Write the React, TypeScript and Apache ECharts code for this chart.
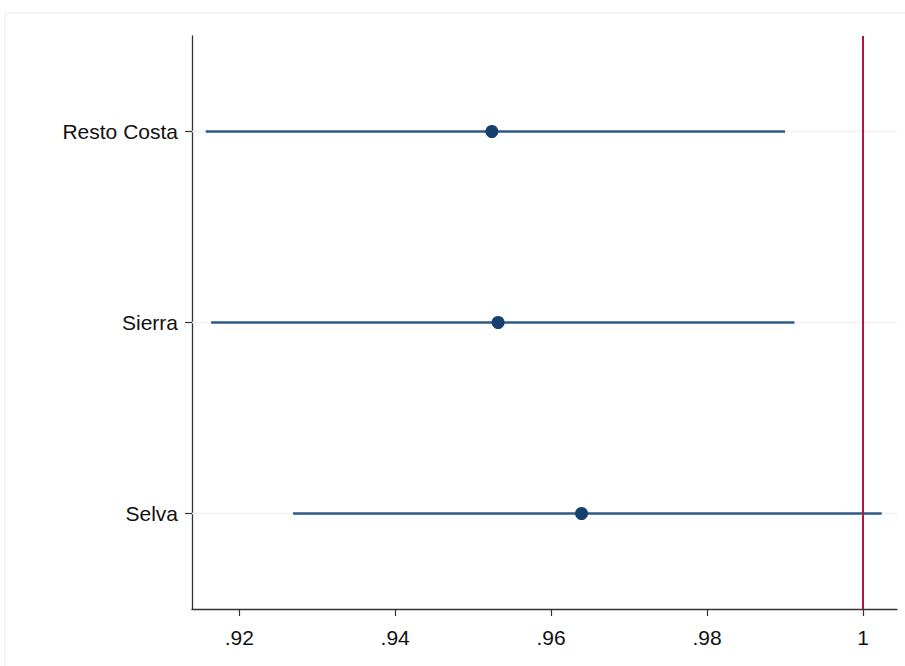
import React, { useEffect, useRef } from "react";
import * as echarts from "echarts";

const categories = ["Resto Costa", "Sierra", "Selva"];
const estimates = [0.9524, 0.9532, 0.9639];
const lowerCI = [0.9157, 0.9164, 0.9269];
const upperCI = [0.99, 0.9912, 1.0024];
const xTicks = [0.92, 0.94, 0.96, 0.98, 1];
const referenceValue = 1;

const FONT = "'Liberation Sans', Arial, Helvetica, sans-serif";

export default function App() {
  const ref = useRef<HTMLDivElement>(null);
  useEffect(() => {
    if (!ref.current) return;
    const chart = echarts.init(ref.current, null, { renderer: "svg" });
    const ciData = categories.map((c, i) => [lowerCI[i], upperCI[i], i]);
    const pointData = categories.map((c, i) => [estimates[i], c]);
    chart.setOption({
      animation: false,
      backgroundColor: "#ffffff",
      graphic: [
        {
          type: "rect",
          shape: { x: 5, y: 13, width: 920, height: 680 },
          style: { fill: "none", stroke: "#ececec", lineWidth: 1 },
          silent: true,
          z: -1,
        },
      ],
      grid: { left: 192, top: 36, right: 8, bottom: 57 },
      xAxis: {
        type: "value",
        min: 0.91394,
        max: 1.00436,
        splitLine: { show: false },
        axisLine: { show: true, onZero: false, lineStyle: { color: "#333", width: 1.3 } },
        axisTick: {
          show: true,
          length: 7,
          customValues: xTicks,
          lineStyle: { color: "#333", width: 1.2 },
        },
        axisLabel: {
          customValues: xTicks,
          margin: 18,
          fontSize: 21,
          fontFamily: FONT,
          color: "#111",
          formatter: (v: number) => {
            const s = String(Math.round(v * 100) / 100);
            return s.startsWith("0.") ? s.slice(1) : s;
          },
        },
      },
      yAxis: {
        type: "category",
        data: categories,
        inverse: true,
        axisLine: { show: true, lineStyle: { color: "#333", width: 1.3 } },
        axisTick: { show: true, alignWithLabel: true, length: 7, lineStyle: { color: "#333", width: 1.2 } },
        axisLabel: { margin: 14, fontSize: 21, fontFamily: FONT, color: "#111" },
        splitLine: { show: false },
      },
      series: [
        {
          type: "custom",
          data: ciData,
          encode: { x: [0, 1], y: 2 },
          renderItem: (params: any, api: any) => {
            const lo = api.value(0);
            const hi = api.value(1);
            const idx = api.value(2);
            const a = api.coord([lo, idx]);
            const b = api.coord([hi, idx]);
            const cs = params.coordSys;
            return {
              type: "group",
              children: [
                {
                  type: "line",
                  shape: { x1: cs.x, y1: a[1], x2: cs.x + cs.width, y2: a[1] },
                  style: { stroke: "#eef0f2", lineWidth: 1.5 },
                },
                {
                  type: "line",
                  shape: { x1: a[0], y1: a[1], x2: b[0], y2: b[1] },
                  style: { stroke: "#2f5a86", lineWidth: 2.5 },
                },
              ],
            };
          },
          z: 2,
        },
        {
          type: "scatter",
          data: pointData,
          symbol: "circle",
          symbolSize: 13,
          itemStyle: { color: "#15406f", opacity: 1 },
          z: 4,
          markLine: {
            silent: true,
            symbol: "none",
            label: { show: false },
            lineStyle: { color: "#b0173f", width: 2, type: "solid" },
            data: [{ xAxis: referenceValue }],
          },
        },
      ],
    });
    return () => chart.dispose();
  }, []);
  return (
    <div
      ref={ref}
      style={{ position: "absolute", left: 0, top: 0, width: 905, height: 666 }}
    />
  );
}
